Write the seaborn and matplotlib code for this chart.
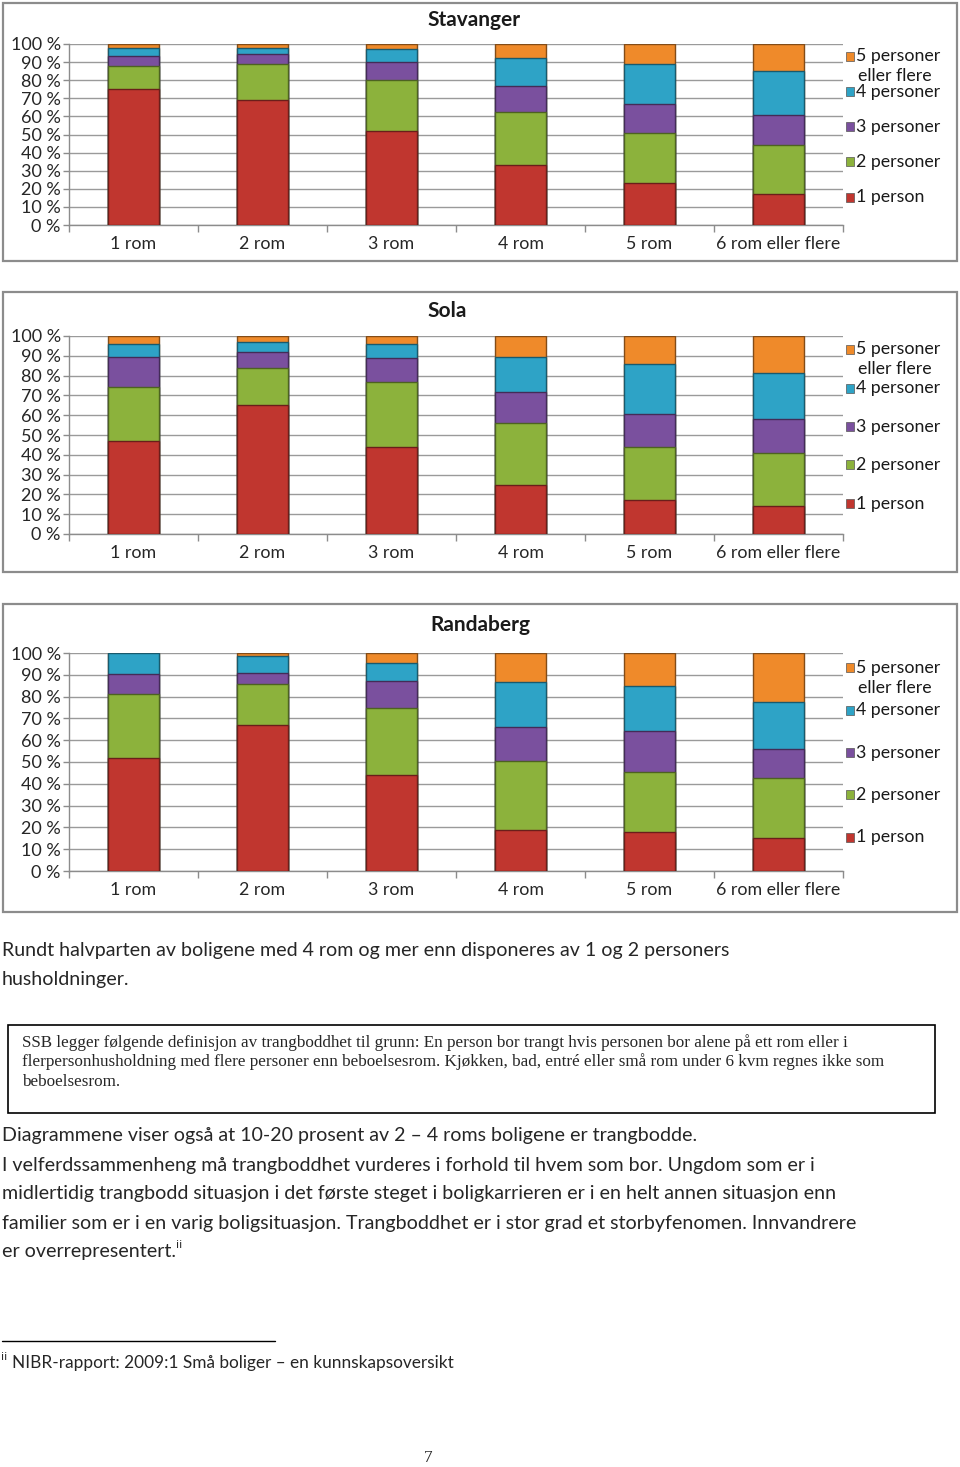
import matplotlib
matplotlib.use("Agg")
import numpy as np
import pandas as pd
import matplotlib.pyplot as plt
import matplotlib.colors as mcolors
from matplotlib.patches import Rectangle
from matplotlib.lines import Line2D
import seaborn as sns

# -----------------------------------
# Data (share of dwellings, %)
# -----------------------------------
ROOMS = ["1 rom", "2 rom", "3 rom", "4 rom", "5 rom", "6 rom eller flere"]
HOUSEHOLDS = ["1 person", "2 personer", "3 personer", "4 personer",
              "5 personer\neller flere"]

stavanger = {
    "1 person": [75, 69, 52, 33, 23, 17],
    "2 personer": [13, 20, 28, 29.5, 28, 27],
    "3 personer": [5.5, 5.5, 10, 14.5, 16, 17],
    "4 personer": [4.5, 3.5, 7, 15.5, 22, 24],
    "5 personer\neller flere": [2, 2, 3, 7.5, 11, 15],
}

sola = {
    "1 person": [47, 65, 44, 25, 17, 14],
    "2 personer": [27, 19, 33, 31, 27, 27],
    "3 personer": [15.5, 8, 12, 15.5, 16.5, 17],
    "4 personer": [6.5, 5, 7, 18, 25.5, 23.5],
    "5 personer\neller flere": [4, 3, 4, 10.5, 14, 18.5],
}

randaberg = {
    "1 person": [52, 67, 44, 19, 18, 15],
    "2 personer": [29, 19, 31, 31.5, 27.5, 27.5],
    "3 personer": [9.5, 5, 12, 15.5, 18.5, 13.5],
    "4 personer": [9.5, 7.5, 8.5, 20.5, 21, 21.5],
    "5 personer\neller flere": [0, 1.5, 4.5, 13.5, 15, 22.5],
}

COLORS = ["#c0362f", "#8cb23c", "#7a509e", "#2ea3c6", "#ef8a2a"]

# chart panels in pixels: (name, data, box_top, box_bottom, ax_top, ax_bottom, title_x, title_y)
PANELS = [
    ("Stavanger", stavanger, 3, 261, 44, 225, 474, 20),
    ("Sola", sola, 292, 572, 336, 534, 447, 311),
    ("Randaberg", randaberg, 604, 912, 653, 871, 480, 625),
]

W, H = 960, 1467
BODY = ["Lato", "DejaVu Sans"]
SERIF = ["Liberation Serif", "DejaVu Serif"]


def px(x, y):
    return x / W, 1 - y / H


sns.set_theme(style="white")
plt.rcParams["font.family"] = BODY

fig = plt.figure(figsize=(W / 100, H / 100), dpi=100)

for name, data, box_top, box_bottom, ax_top, ax_bottom, tx, ty in PANELS:
    # chart frame
    fig.patches.append(Rectangle(px(3, box_bottom), 954 / W, (box_bottom - box_top) / H,
                                 transform=fig.transFigure, fill=False,
                                 edgecolor="#8c8c8c", linewidth=1.6))

    ax_h = ax_bottom - ax_top
    left, bottom = px(69, ax_bottom)
    ax = fig.add_axes([left, bottom, 774 / W, ax_h / H])

    df = pd.DataFrame(data, index=ROOMS)
    cum = df.cumsum(axis=1)

    # stacked bars: draw cumulative totals from the top layer downwards
    for i in range(len(HOUSEHOLDS) - 1, -1, -1):
        col = HOUSEHOLDS[i]
        edge = tuple(c * 0.55 for c in mcolors.to_rgb(COLORS[i]))
        sns.barplot(x=ROOMS, y=cum[col].values, color=COLORS[i], saturation=1,
                    width=0.4, edgecolor=edge, linewidth=1.0, ax=ax, zorder=3)

    ax.set_xlim(-0.5, 5.5)
    ax.set_ylim(0, 100)
    ax.set_yticks(np.arange(0, 101, 10))
    ax.set_yticklabels([f"{v} %" for v in range(0, 101, 10)], fontsize=13)
    ax.set_xticks(range(len(ROOMS)))
    ax.set_xticklabels(ROOMS, fontsize=12.8)
    ax.set_xticks(np.arange(-0.5, 6, 1), minor=True)
    ax.tick_params(axis="x", which="major", length=0, pad=8)
    ax.tick_params(axis="x", which="minor", length=5, width=1, color="#8c8c8c",
                   direction="out", bottom=True)
    ax.tick_params(axis="y", which="major", length=4, width=1, color="#8c8c8c",
                   direction="out", left=True, pad=2)
    ax.grid(axis="y", color="#9a9a9a", linewidth=1, zorder=0)
    ax.set_axisbelow(True)
    for s in ["top", "right"]:
        ax.spines[s].set_visible(False)
    for s in ["left", "bottom"]:
        ax.spines[s].set_color("#8c8c8c")
        ax.spines[s].set_linewidth(1)
    ax.set_xlabel("")
    ax.set_ylabel("")

    fig.text(*px(tx, ty), name, ha="center", va="center", fontsize=15,
             fontweight="bold", color="#1a1a1a")

    # legend, top entry first
    fracs = [0.067, 0.263, 0.458, 0.650, 0.846]
    for f, i in zip(fracs, range(len(HOUSEHOLDS) - 1, -1, -1)):
        ax.add_patch(Rectangle((1.0035, 1 - f - 4.5 / ax_h), 0.0105, 9 / ax_h,
                               transform=ax.transAxes, clip_on=False,
                               facecolor=COLORS[i], edgecolor="#555555", linewidth=0.5))
        lines = HOUSEHOLDS[i].split("\n")
        for k, line in enumerate(lines):
            ax.text(1.017 if k == 0 else 1.019, 1 - f - k * 20 / ax_h, line,
                    transform=ax.transAxes, ha="left", va="center",
                    fontsize=12.8, color="#1a1a1a")

# -----------------------------------
# Page text
# -----------------------------------
fs_body = 14.1
fig.text(*px(2, 950), "Rundt halvparten av boligene med 4 rom og mer enn disponeres av 1 og 2 personers",
         ha="left", va="center", fontsize=fs_body)
fig.text(*px(2, 980), "husholdninger.", ha="left", va="center", fontsize=fs_body)

fig.patches.append(Rectangle(px(8, 1113), 927 / W, 88 / H, transform=fig.transFigure,
                             fill=False, edgecolor="black", linewidth=1.2))
box_lines = [
    "SSB legger følgende definisjon av trangboddhet til grunn: En person bor trangt hvis personen bor alene på ett rom eller i",
    "flerpersonhusholdning med flere personer enn beboelsesrom. Kjøkken, bad, entré eller små rom under 6 kvm regnes ikke som",
    "beboelsesrom.",
]
for line, y in zip(box_lines, [1043, 1062, 1082]):
    fig.text(*px(22, y), line, ha="left", va="center", fontsize=12.3, family=SERIF)

para = [
    "Diagrammene viser også at 10-20 prosent av 2 – 4 roms boligene er trangbodde.",
    "I velferdssammenheng må trangboddhet vurderes i forhold til hvem som bor. Ungdom som er i",
    "midlertidig trangbodd situasjon i det første steget i boligkarrieren er i en helt annen situasjon enn",
    "familier som er i en varig boligsituasjon. Trangboddhet er i stor grad et storbyfenomen. Innvandrere",
    "er overrepresentert.",
]
for line, y in zip(para, [1135, 1165, 1194, 1223, 1252]):
    fig.text(*px(2, y), line, ha="left", va="center", fontsize=fs_body)

fig.text(*px(176, 1245), "ii", ha="left", va="center", fontsize=8, family=["DejaVu Sans"])

fig.add_artist(Line2D([2 / W, 275 / W], [1 - 1341 / H, 1 - 1341 / H],
                      transform=fig.transFigure, color="black", linewidth=1))
fig.text(*px(1, 1357), "ii", ha="left", va="center", fontsize=8, family=["DejaVu Sans"])
fig.text(*px(12, 1363), "NIBR-rapport: 2009:1 Små boliger – en kunnskapsoversikt",
         ha="left", va="center", fontsize=12.4)

fig.text(*px(428, 1458), "7", ha="center", va="center", fontsize=12.5, family=SERIF)

fig.savefig("out.png", dpi=100, facecolor="white")
